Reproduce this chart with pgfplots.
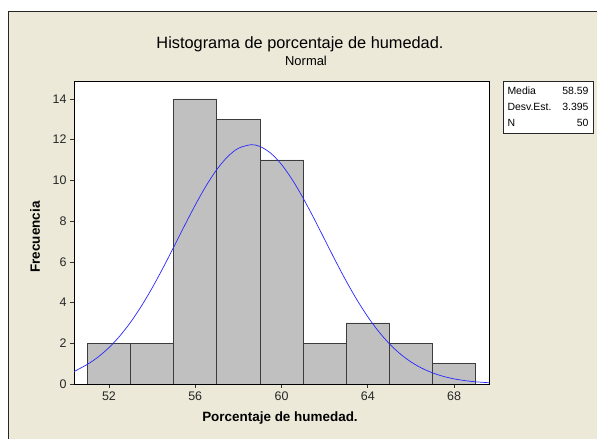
\documentclass[border=0pt]{standalone}
\usepackage{pgfplots}
\pgfplotsset{compat=1.18}
\usepackage{fontspec}
\setmainfont{Liberation Sans}
\definecolor{bgc}{RGB}{236,233,216}
\definecolor{barc}{RGB}{192,192,192}
\definecolor{edgec}{RGB}{60,60,60}
\definecolor{curvec}{RGB}{40,40,255}
\begin{document}
\begin{tikzpicture}[x=1bp,y=1bp]
\path[use as bounding box] (0,0) rectangle (597,439);
\fill[bgc] (8,0) rectangle (597,428);
\draw[black!85,line width=0.8bp] (8,0) -- (8,428) -- (597,428);
\node[font=\fontsize{16.4}{18}\selectfont] at (300,395) {Histograma de porcentaje de humedad.};
\node[font=\fontsize{13}{15}\selectfont] at (306,378) {Normal};
\begin{axis}[
  at={(74bp,55bp)}, anchor=south west, scale only axis,
  width=415bp, height=303bp,
  xmin=50.38, xmax=69.62, ymin=0, ymax=14.88,
  axis background/.style={fill=white},
  axis line style={black, line width=0.9bp},
  xtick={52,56,60,64,68}, ytick={0,2,4,6,8,10,12,14},
  tick align=outside, major tick length=4bp,
  tick style={black!80, line width=0.6bp},
  xtick pos=bottom, ytick pos=left,
  /pgf/number format/assume math mode=true,
  ticklabel style={font=\fontsize{12.5}{14}\selectfont, text=black!85},
  clip=true,
]
\addplot[ybar interval, fill=barc, draw=edgec, line width=0.7bp] coordinates {
(51,2) (53,2) (55,14) (57,13) (59,11) (61,2) (63,3) (65,2) (67,1) (69,1)
};
\addplot[curvec, line width=0.7bp, smooth, no marks] coordinates {
(50.38,0.611) (51,0.965) (51.5,1.327) (52,1.786) (52.5,2.352) (53,3.029)
(53.5,3.819) (54,4.711) (54.5,5.688) (55,6.718) (55.5,7.766) (56,8.784)
(56.5,9.723) (57,10.530) (57.5,11.161) (58,11.575) (58.59,11.751)
(59,11.666) (59.5,11.336) (60,10.781) (60.5,10.031) (61,9.134)
(61.5,8.139) (62,7.096) (62.5,6.054) (63,5.054) (63.5,4.129) (64,3.301)
(64.5,2.583) (65,1.977) (65.5,1.481) (66,1.085) (66.5,0.779) (67,0.547)
(67.5,0.375) (68,0.252) (68.5,0.166) (69,0.107) (69.62,0.063)
};
\end{axis}
\node[font=\fontsize{13.5}{15}\selectfont\bfseries] at (280,21) {Porcentaje de humedad.};
\node[font=\fontsize{13.5}{15}\selectfont\bfseries, rotate=90] at (35,202) {Frecuencia};
\draw[fill=white, draw=black!85, line width=0.8bp] (503,306) rectangle (593,358);
\begin{scope}[font=\fontsize{10.5}{12}\selectfont]
\node[anchor=west] at (504,348) {Media};
\node[anchor=east] at (592,348) {58.59};
\node[anchor=west] at (504,332) {Desv.Est.};
\node[anchor=east] at (592,332) {3.395};
\node[anchor=west] at (504,316) {N};
\node[anchor=east] at (592,316) {50};
\end{scope}
\end{tikzpicture}
\end{document}
